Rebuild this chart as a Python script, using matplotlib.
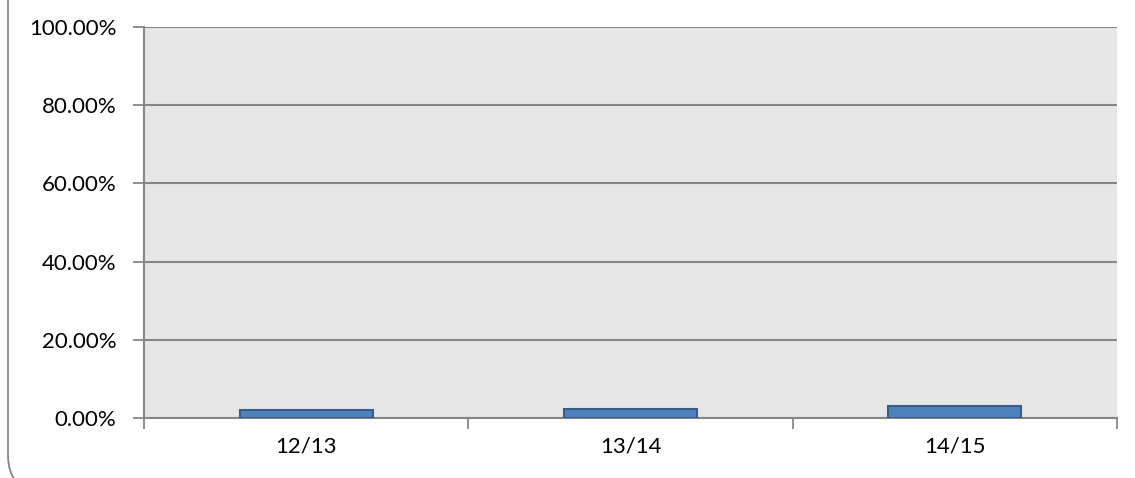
import matplotlib.pyplot as plt
from matplotlib.patches import FancyBboxPatch
from matplotlib.ticker import FuncFormatter

# data
seasons = ["12/13", "13/14", "14/15"]
rates = [0.0205, 0.023, 0.0307]
y_ticks = [0.0, 0.2, 0.4, 0.6, 0.8, 1.0]

plt.rcParams['font.family'] = ['Lato', 'DejaVu Sans']

fig = plt.figure(figsize=(11.35, 4.78), dpi=100)

# rounded chart border (cut off at top, right and bottom like the source)
border = FancyBboxPatch((0.08, -0.14), 20, 20,
                        boxstyle="round,pad=0,rounding_size=0.37",
                        transform=fig.dpi_scale_trans, facecolor="none",
                        edgecolor="#868686", linewidth=1.3)
fig.patches.append(border)

ax = fig.add_axes([144 / 1135, 1 - 418 / 478, (1117 - 144) / 1135, (418 - 27) / 478])
ax.set_facecolor("#E6E6E6")

x = range(len(seasons))
ax.bar(x, rates, width=0.41, color="#4F81BD", edgecolor="#385D8A", linewidth=1.5, zorder=3)

ax.set_xlim(-0.5, len(seasons) - 0.5)
ax.set_ylim(0, 1.0)
ax.set_yticks(y_ticks)
ax.yaxis.set_major_formatter(FuncFormatter(lambda v, p: f"{v * 100:.2f}%"))
ax.yaxis.grid(True, color="#868686", linewidth=1.5, zorder=1)
ax.set_axisbelow(True)

ax.set_xticks(x)
ax.set_xticklabels(seasons)
# category boundary ticks
ax.set_xticks([i - 0.5 for i in range(len(seasons) + 1)], minor=True)
ax.tick_params(axis="x", which="major", length=0, pad=13, labelsize=16)
ax.tick_params(axis="x", which="minor", length=8, width=1.3, color="#868686")
ax.tick_params(axis="y", length=8, width=1.3, color="#868686", pad=12, labelsize=16)

for side in ["top", "right"]:
    ax.spines[side].set_visible(False)
for side in ["left", "bottom"]:
    ax.spines[side].set_color("#868686")
    ax.spines[side].set_linewidth(1.5)

fig.savefig("out.png", dpi=100)
